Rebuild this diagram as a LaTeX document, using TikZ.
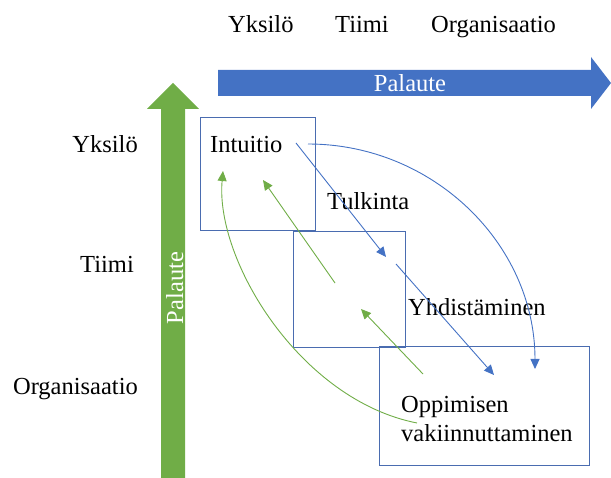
\documentclass[tikz,border=0pt]{standalone}
\usepackage{fontspec}
\setmainfont{Liberation Serif}
\usetikzlibrary{arrows.meta}
\definecolor{pblue}{HTML}{4472C4}
\definecolor{pgreen}{HTML}{70AD47}
\definecolor{boxline}{HTML}{4A6CB0}
\tikzset{
  txt/.style={inner sep=0pt, font=\fontsize{24.5}{29}\selectfont},
  lvl/.style={txt, anchor=base east},
  stage/.style={draw=boxline, line width=1pt, inner sep=0pt},
  bluelink/.style={draw=pblue, line width=0.9pt, -{Triangle[length=10pt,width=9pt]}},
  greenlink/.style={draw=pgreen, line width=0.9pt, -{Triangle[length=10pt,width=9pt]}},
}
\begin{document}
\begin{tikzpicture}[x=1pt,y=-1pt]
\useasboundingbox (0,0) rectangle (611,478);

% horizontal feedback arrow
\fill[pblue] (218,70) -- (591,70) -- (591,57) -- (611,83) -- (591,109) -- (591,96) -- (218,96) -- cycle;
\node[txt, text=white, anchor=base] (hfb) at (410,92) {Palaute};

% vertical feedback arrow
\fill[pgreen] (161,478) -- (161,109) -- (147,109) -- (173,83) -- (199,109) -- (185,109) -- (185,478) -- cycle;
\node[txt, text=white, anchor=base, rotate=90] (vfb) at (183,288) {Palaute};

% level labels, top
\node[txt, anchor=base west] (t1) at (228,33) {Yksilö};
\node[txt, anchor=base west] (t2) at (335,33) {Tiimi};
\node[txt, anchor=base west] (t3) at (431,33) {Organisaatio};

% level labels, left
\node[lvl] (l1) at (138,153) {Yksilö};
\node[lvl] (l2) at (134,273) {Tiimi};
\node[lvl] (l3) at (138,395) {Organisaatio};

% stage boxes
\node[stage, minimum width=115pt, minimum height=113pt] (b1) at (257.5,174.5) {};
\node[stage, minimum width=112pt, minimum height=116pt] (b2) at (349,290) {};
\node[stage, minimum width=210pt, minimum height=119pt] (b3) at (484,406.5) {};

% stage names
\node[txt, anchor=base west] (intu) at (210,153) {Intuitio};
\node[txt, anchor=base west] (tulk) at (327,210) {Tulkinta};
\node[txt, anchor=base west] (yhd) at (408,316) {Yhdistäminen};
\node[txt, anchor=base west] (opp) at (401,413) {Oppimisen};
\node[txt, anchor=base west] (vak) at (401,442) {vakiinnuttaminen};

% link end points
\coordinate (a1) at (296,143);  \coordinate (a2) at (386,257);
\coordinate (a3) at (396,264);  \coordinate (a4) at (494,375);
\coordinate (a5) at (308,144);  \coordinate (a6) at (535,369);
\coordinate (g1) at (335,283);  \coordinate (g2) at (263,180);
\coordinate (g3) at (423,374);  \coordinate (g4) at (361,309);
\coordinate (g5) at (417,423);  \coordinate (g6) at (223,171);

% feed-forward links
\draw[bluelink] (a1) -- (a2);
\draw[bluelink] (a3) -- (a4);
\draw[bluelink] (a5) .. controls (433,144) and (535,244) .. (a6);

% feedback links
\draw[greenlink] (g1) -- (g2);
\draw[greenlink] (g3) -- (g4);
\draw[greenlink] (g5) .. controls (300,400) and (215,260) .. (g6);
\end{tikzpicture}
\end{document}
